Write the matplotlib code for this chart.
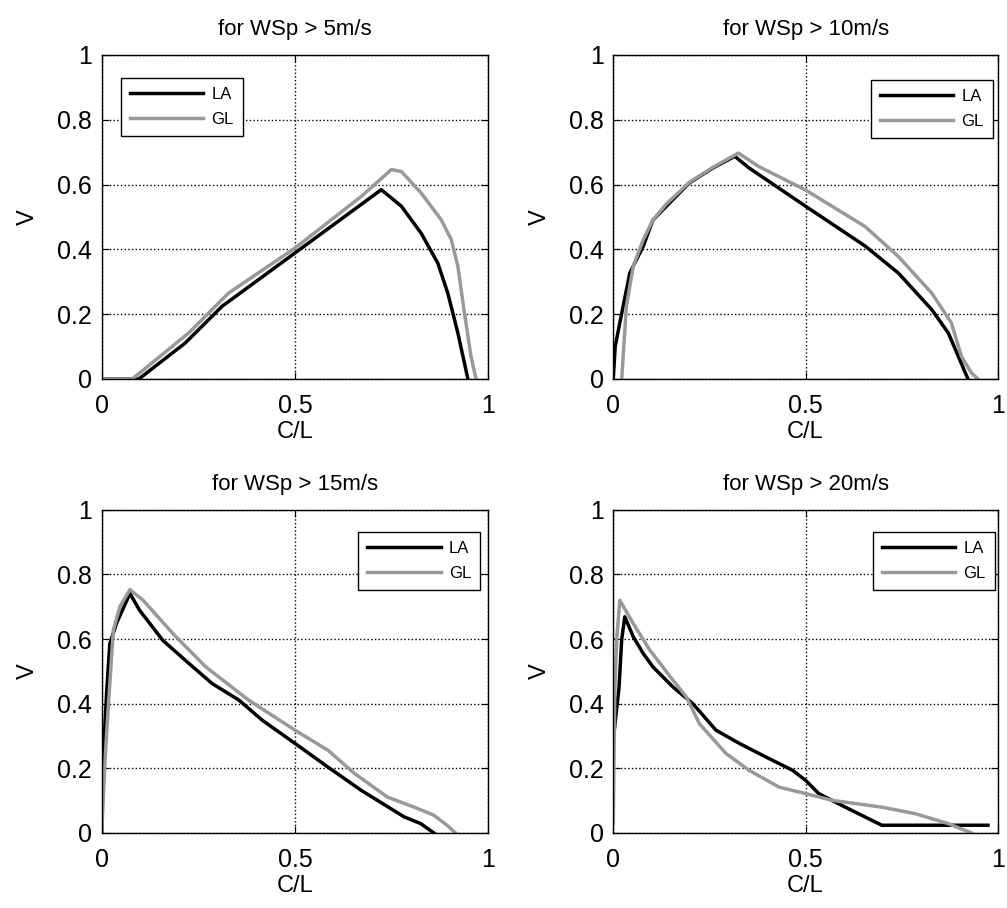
import matplotlib
matplotlib.use("Agg")
import matplotlib.pyplot as plt

plt.rcParams['font.family'] = ['Liberation Sans', 'DejaVu Sans']

titles = ["for WSp > 5m/s", "for WSp > 10m/s", "for WSp > 15m/s", "for WSp > 20m/s"]

# WSp > 5
la5_x = [0.0, 0.08, 0.096, 0.216, 0.311, 0.5, 0.723, 0.775, 0.826, 0.869, 0.895, 0.921, 0.947]
la5_y = [0.0, 0.0, 0.0, 0.111, 0.224, 0.389, 0.584, 0.533, 0.45, 0.358, 0.265, 0.142, 0.0]
gl5_x = [0.0, 0.079, 0.225, 0.328, 0.5, 0.672, 0.749, 0.775, 0.826, 0.878, 0.904, 0.921, 0.938, 0.955, 0.968]
gl5_y = [0.0, 0.0, 0.142, 0.265, 0.404, 0.564, 0.646, 0.64, 0.574, 0.491, 0.43, 0.348, 0.204, 0.07, 0.0]

# WSp > 10
la10_x = [0.0, 0.005, 0.017, 0.043, 0.078, 0.103, 0.138, 0.198, 0.259, 0.316, 0.353, 0.5, 0.655, 0.741, 0.828, 0.871, 0.897, 0.922]
la10_y = [0.0, 0.10, 0.173, 0.327, 0.41, 0.49, 0.533, 0.605, 0.651, 0.687, 0.651, 0.533, 0.41, 0.327, 0.214, 0.142, 0.07, 0.0]
gl10_x = [0.022, 0.034, 0.052, 0.078, 0.103, 0.138, 0.198, 0.259, 0.325, 0.379, 0.5, 0.655, 0.741, 0.828, 0.879, 0.905, 0.931, 0.948]
gl10_y = [0.0, 0.224, 0.348, 0.43, 0.49, 0.54, 0.607, 0.653, 0.697, 0.655, 0.583, 0.47, 0.378, 0.265, 0.173, 0.07, 0.019, 0.0]

# WSp > 15
la15_x = [0.0, 0.004, 0.013, 0.021, 0.038, 0.073, 0.098, 0.158, 0.226, 0.286, 0.355, 0.415, 0.5, 0.585, 0.671, 0.782, 0.825, 0.859]
la15_y = [0.0, 0.235, 0.44, 0.586, 0.648, 0.741, 0.689, 0.596, 0.524, 0.462, 0.411, 0.349, 0.277, 0.204, 0.132, 0.05, 0.029, 0.0]
gl15_x = [0.0, 0.009, 0.017, 0.03, 0.047, 0.073, 0.107, 0.184, 0.269, 0.38, 0.5, 0.585, 0.654, 0.739, 0.808, 0.859, 0.893, 0.915]
gl15_y = [0.0, 0.235, 0.39, 0.627, 0.7, 0.753, 0.72, 0.617, 0.514, 0.411, 0.318, 0.256, 0.184, 0.111, 0.08, 0.055, 0.024, 0.0]

# WSp > 20
la20_x = [0.0, 0.015, 0.022, 0.03, 0.052, 0.078, 0.103, 0.155, 0.207, 0.267, 0.328, 0.397, 0.466, 0.5, 0.534, 0.603, 0.698, 0.974]
la20_y = [0.29, 0.45, 0.60, 0.669, 0.607, 0.555, 0.514, 0.452, 0.4, 0.318, 0.277, 0.235, 0.194, 0.163, 0.122, 0.08, 0.024, 0.024]
gl20_x = [0.0, 0.004, 0.009, 0.017, 0.052, 0.095, 0.155, 0.19, 0.224, 0.293, 0.353, 0.431, 0.5, 0.569, 0.698, 0.784, 0.871, 0.931]
gl20_y = [0.03, 0.44, 0.6, 0.72, 0.648, 0.566, 0.473, 0.421, 0.338, 0.246, 0.194, 0.142, 0.122, 0.101, 0.08, 0.06, 0.029, 0.0]

panels = [
    (la5_x, la5_y, gl5_x, gl5_y, 'upper left', (0.049, 0.929)),
    (la10_x, la10_y, gl10_x, gl10_y, 'upper right', (0.987, 0.923)),
    (la15_x, la15_y, gl15_x, gl15_y, 'upper right', (0.979, 0.932)),
    (la20_x, la20_y, gl20_x, gl20_y, 'upper right', (0.992, 0.932)),
]

fig = plt.figure(figsize=(10.07, 9.08), dpi=100)
rects = [
    [0.101, 0.5826, 0.384, 0.357],
    [0.609, 0.5826, 0.382, 0.357],
    [0.101, 0.0826, 0.384, 0.356],
    [0.609, 0.0826, 0.382, 0.356],
]

gray = '#999999'
for i, (lx, ly, gx, gy, loc, anchor) in enumerate(panels):
    ax = fig.add_axes(rects[i])
    ax.plot(lx, ly, color='black', lw=2.5, label='LA')
    ax.plot(gx, gy, color=gray, lw=2.5, label='GL')
    ax.set_xlim(0, 1)
    ax.set_ylim(0, 1)
    ax.set_xticks([0, 0.5, 1])
    ax.set_xticklabels(['0', '0.5', '1'])
    ax.set_yticks([0, 0.2, 0.4, 0.6, 0.8, 1])
    ax.set_yticklabels(['0', '0.2', '0.4', '0.6', '0.8', '1'])
    ax.grid(True, color='black', linestyle=':', lw=1.0)
    ax.tick_params(direction='in', top=True, right=True, labelsize=18, length=5)
    ax.tick_params(axis='x', pad=11)
    ax.tick_params(axis='y', pad=7)
    for s in ax.spines.values():
        s.set_linewidth(1.0)
    ax.set_xlabel('C/L', fontsize=17, labelpad=2)
    ax.set_ylabel('V', fontsize=17, labelpad=13)
    ax.set_title(titles[i], fontsize=16, pad=14)
    leg = ax.legend(loc=loc, bbox_to_anchor=anchor, fontsize=12, handlelength=4.4,
                    handletextpad=0.5, labelspacing=0.6, borderpad=0.55,
                    fancybox=False, edgecolor='black', framealpha=1, borderaxespad=0)
    leg.get_frame().set_linewidth(1.0)

fig.savefig('out.png', dpi=100)
